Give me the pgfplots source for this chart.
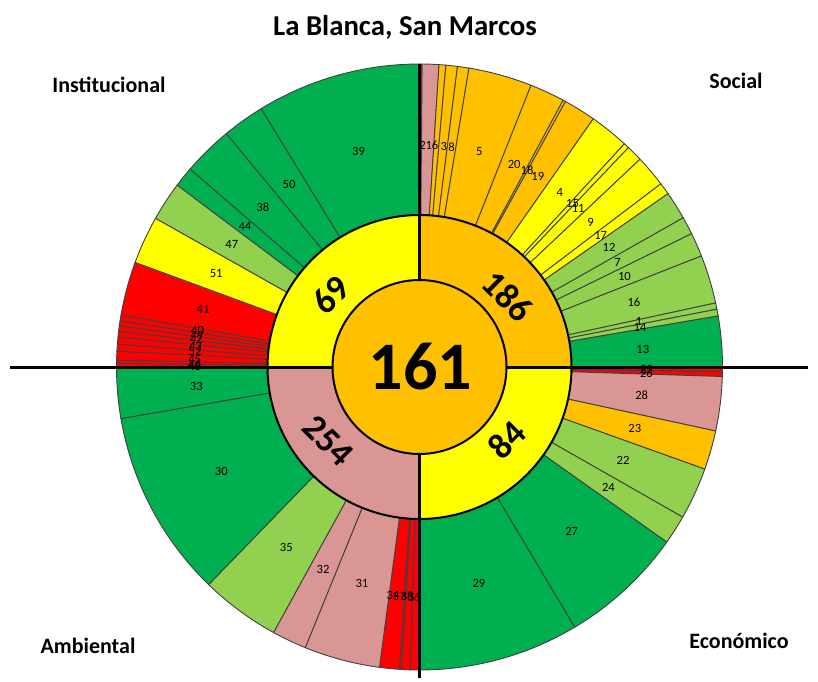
\documentclass[border=0pt]{standalone}
\usepackage{pgfplots}
\pgfplotsset{compat=1.18}
\usepackage{pgfplotstable}
\usepackage{fontspec}
\setmainfont{Carlito}
\definecolor{cgreen}{HTML}{00B050}
\definecolor{clgreen}{HTML}{92D050}
\definecolor{cyellow}{HTML}{FFFF00}
\definecolor{corange}{HTML}{FFC000}
\definecolor{cpink}{HTML}{DA9694}
\definecolor{cred}{HTML}{FF0000}
\definecolor{cline}{HTML}{404040}
\newcommand{\sect}[3]{\addplot[data cs=polar, fill=#3, draw=cline, line width=0.45pt, domain=#1:#2, samples=40] ({x},{303}) -- (axis cs:0,0) -- cycle;}
\pgfplotstableread{
ang r lab
89.2 222 2
86.8 222 16
83.7 222 3
81.7 222 8
74.5 224 5
65.0 224 20
61.3 224 18
58.1 224 19
51.2 224 4
46.9 224 15
44.9 224 11
40.2 224 9
36.0 224 17
32.2 224 12
27.8 224 7
23.8 224 10
16.8 224 16
11.8 224 1
10.1 224 14
4.5 224 13
-0.7 227 25
-1.7 227 26
-7.3 224 28
-16.0 224 23
-24.7 224 22
-32.5 224 24
-47.2 224 27
-74.6 224 29
-96.6 230 34
-95.1 230 37
-93.1 230 38
-91.4 230 36
-104.9 224 31
-115.5 224 32
-126.5 224 35
-152.2 224 30
-175.1 224 33
179.8 225 48
179.3 225 46
178.0 225 45
176.1 225 52
174.7 225 43
173.0 225 42
171.8 225 49
170.6 225 40
165.1 224 41
155.2 224 51
146.9 224 47
141.2 224 44
134.4 224 38
125.6 224 50
105.8 224 39
}\labtab
\begin{document}
\begin{tikzpicture}
\begin{axis}[x=0.5pt, y=0.5pt, xmin=-419.5, xmax=398.5, ymin=-314, ymax=367,
  hide axis, clip=false]
% Social
\sect{89.5}{90}{cred}
\sect{86.3}{89.5}{cpink}
\sect{85.0}{86.3}{corange}
\sect{82.8}{85.0}{corange}
\sect{80.6}{82.8}{corange}
\sect{68.4}{80.6}{corange}
\sect{61.7}{68.4}{corange}
\sect{61.2}{61.7}{corange}
\sect{55.0}{61.2}{corange}
\sect{47.45}{55.0}{cyellow}
\sect{46.4}{47.45}{cyellow}
\sect{43.3}{46.4}{cyellow}
\sect{37.2}{43.3}{cyellow}
\sect{34.9}{37.2}{cyellow}
\sect{29.5}{34.9}{clgreen}
\sect{26.1}{29.5}{clgreen}
\sect{21.5}{26.1}{clgreen}
\sect{12.2}{21.5}{clgreen}
\sect{11.0}{12.2}{clgreen}
\sect{9.7}{11.0}{clgreen}
\sect{0}{9.7}{cgreen}
% Economico
\sect{-0.9}{0}{cred}
\sect{-1.8}{-0.9}{cred}
\sect{-12.2}{-1.8}{cpink}
\sect{-19.7}{-12.2}{corange}
\sect{-29.7}{-19.7}{clgreen}
\sect{-35.3}{-29.7}{clgreen}
\sect{-59.2}{-35.3}{cgreen}
\sect{-90}{-59.2}{cgreen}
% Ambiental
\sect{-91.7}{-90}{cred}
\sect{-93.4}{-91.7}{cred}
\sect{-93.8}{-93.4}{cred}
\sect{-97.6}{-93.8}{cred}
\sect{-112.15}{-97.6}{cpink}
\sect{-118.8}{-112.15}{cpink}
\sect{-134.1}{-118.8}{clgreen}
\sect{-170.2}{-134.1}{cgreen}
\sect{-180}{-170.2}{cgreen}
% Institucional
\sect{179.3}{180}{cred}
\sect{178.7}{179.3}{cred}
\sect{177.0}{178.7}{cred}
\sect{175.65}{177.0}{cred}
\sect{174.3}{175.65}{cred}
\sect{173.2}{174.3}{cred}
\sect{172.2}{173.2}{cred}
\sect{171.2}{172.2}{cred}
\sect{170.1}{171.2}{cred}
\sect{159.8}{170.1}{cred}
\sect{150.6}{159.8}{cyellow}
\sect{143.1}{150.6}{clgreen}
\sect{139.2}{143.1}{cgreen}
\sect{129.6}{139.2}{cgreen}
\sect{121.5}{129.6}{cgreen}
\sect{90}{121.5}{cgreen}
% middle ring
\addplot[data cs=polar, fill=corange, draw=black, line width=1pt, domain=0:90, samples=60] ({x},{152}) -- (axis cs:0,0) -- cycle;
\addplot[data cs=polar, fill=cyellow, draw=black, line width=1pt, domain=-90:0, samples=60] ({x},{152}) -- (axis cs:0,0) -- cycle;
\addplot[data cs=polar, fill=cpink, draw=black, line width=1pt, domain=-180:-90, samples=60] ({x},{152}) -- (axis cs:0,0) -- cycle;
\addplot[data cs=polar, fill=cyellow, draw=black, line width=1pt, domain=90:180, samples=60] ({x},{152}) -- (axis cs:0,0) -- cycle;
% cross lines
\addplot[black, line width=1.5pt] coordinates {(-409.5,0) (388.5,0)};
\addplot[black, line width=1.5pt] coordinates {(0,303) (0,-311)};
% centre
\addplot[data cs=polar, fill=corange, draw=black, line width=1pt, domain=0:360, samples=120] ({x},{87}) -- cycle;
% labels
\addplot[data cs=polar, only marks, mark=*, mark size=0pt, mark options={draw=none,fill=none},
  nodes near coords, point meta=explicit symbolic, nodes near coords align={center},
  every node near coord/.append style={font=\fontsize{6.3}{7}\selectfont, text=black, inner sep=0pt}]
  table[x=ang, y=r, meta=lab] {\labtab};
\node[font=\bfseries\fontsize{34}{34}\selectfont] at (axis cs:1,0) {161};
\node[font=\bfseries\fontsize{18}{18}\selectfont, rotate=-45] at (axis cs:88.5,71) {186};
\node[font=\bfseries\fontsize{18}{18}\selectfont, rotate=45] at (axis cs:87.5,-73) {84};
\node[font=\bfseries\fontsize{18}{18}\selectfont, rotate=-45] at (axis cs:-91.5,-74) {254};
\node[font=\bfseries\fontsize{18}{18}\selectfont, rotate=45] at (axis cs:-89,72) {69};
\node[font=\bfseries\fontsize{14.4}{15}\selectfont] at (axis cs:-14.5,340) {La Blanca, San Marcos};
\node[font=\bfseries\fontsize{11}{12}\selectfont] at (axis cs:-310.5,282) {Institucional};
\node[font=\bfseries\fontsize{11}{12}\selectfont] at (axis cs:316.5,286) {Social};
\node[font=\bfseries\fontsize{11}{12}\selectfont] at (axis cs:-331.5,-279) {Ambiental};
\node[font=\bfseries\fontsize{11}{12}\selectfont] at (axis cs:319.5,-274) {Económico};
\coordinate (BL) at (axis cs:-419.5,-314);
\coordinate (TR) at (axis cs:398.5,367);
\end{axis}
\pgfresetboundingbox
\path[use as bounding box] (BL) rectangle (TR);
\end{tikzpicture}
\end{document}
